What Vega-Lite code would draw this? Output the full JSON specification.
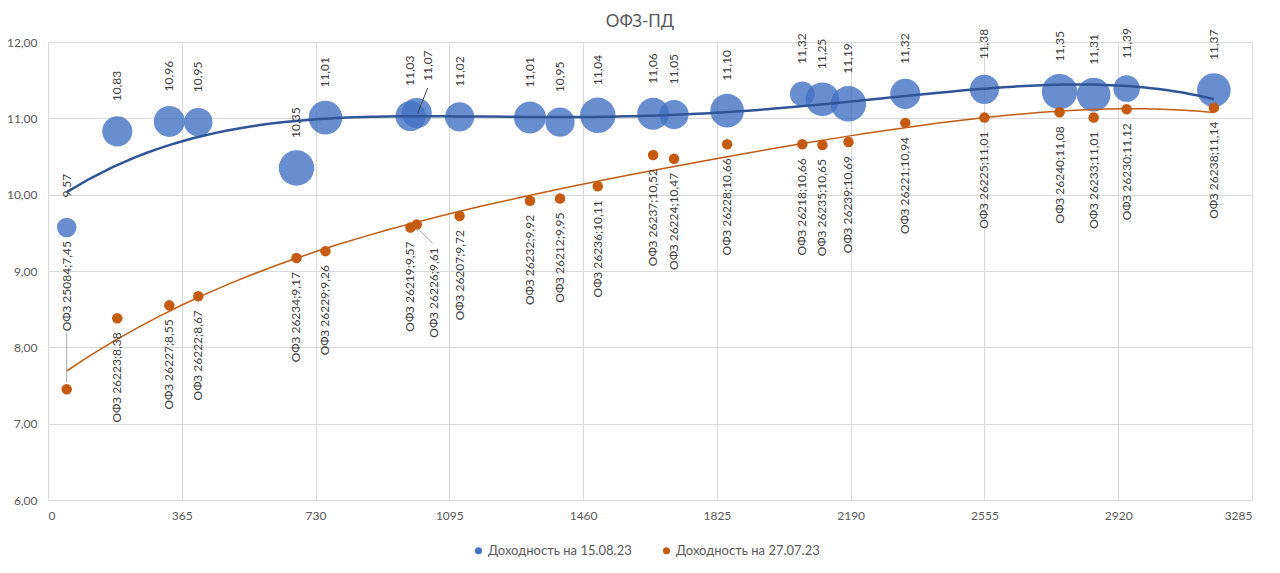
{
  "$schema": "https://vega.github.io/schema/vega-lite/v6.json",
  "autosize": "none",
  "width": 1204,
  "height": 458,
  "padding": {"left": 48, "top": 42, "right": 28, "bottom": 73},
  "background": "white",
  "config": {
    "view": {"stroke": null},
    "font": "Lato",
    "locale": {"number": {"decimal": ",", "thousands": " ", "grouping": [3], "currency": ["", ""]}},
    "axis": {"domain": false, "ticks": false, "gridColor": "#D9D9D9", "gridWidth": 1, "labelColor": "#595959", "labelFont": "Lato", "labelFontSize": 12, "title": null},
    "title": {"font": "Lato", "fontSize": 17, "fontWeight": "normal", "color": "#595959", "offset": -3, "dx": -10}
  },
  "title": {"text": "ОФЗ-ПД"},
  "data": {"values": [
    {"bond": "ОФЗ 25084", "days": 51, "y15": 9.57, "y27": 7.45, "vol": 121, "lab": "ОФЗ 25084;7,45"},
    {"bond": "ОФЗ 26223", "days": 189, "y15": 10.83, "y27": 8.38, "vol": 289, "lab": "ОФЗ 26223;8,38"},
    {"bond": "ОФЗ 26227", "days": 331, "y15": 10.96, "y27": 8.55, "vol": 306, "lab": "ОФЗ 26227;8,55"},
    {"bond": "ОФЗ 26222", "days": 410, "y15": 10.95, "y27": 8.67, "vol": 256, "lab": "ОФЗ 26222;8,67"},
    {"bond": "ОФЗ 26234", "days": 678, "y15": 10.35, "y27": 9.17, "vol": 400, "lab": "ОФЗ 26234;9,17"},
    {"bond": "ОФЗ 26229", "days": 757, "y15": 11.01, "y27": 9.26, "vol": 361, "lab": "ОФЗ 26229;9,26"},
    {"bond": "ОФЗ 26219", "days": 989, "y15": 11.03, "y27": 9.57, "vol": 289, "lab": "ОФЗ 26219;9,57"},
    {"bond": "ОФЗ 26226", "days": 1006, "y15": 11.07, "y27": 9.61, "vol": 289, "lab": "ОФЗ 26226;9,61"},
    {"bond": "ОФЗ 26207", "days": 1123, "y15": 11.02, "y27": 9.72, "vol": 272, "lab": "ОФЗ 26207;9,72"},
    {"bond": "ОФЗ 26232", "days": 1315, "y15": 11.01, "y27": 9.92, "vol": 324, "lab": "ОФЗ 26232;9,92"},
    {"bond": "ОФЗ 26212", "days": 1397, "y15": 10.95, "y27": 9.95, "vol": 272, "lab": "ОФЗ 26212;9,95"},
    {"bond": "ОФЗ 26236", "days": 1500, "y15": 11.04, "y27": 10.11, "vol": 400, "lab": "ОФЗ 26236;10,11"},
    {"bond": "ОФЗ 26237", "days": 1651, "y15": 11.06, "y27": 10.52, "vol": 324, "lab": "ОФЗ 26237;10,52"},
    {"bond": "ОФЗ 26224", "days": 1708, "y15": 11.05, "y27": 10.47, "vol": 272, "lab": "ОФЗ 26224;10,47"},
    {"bond": "ОФЗ 26228", "days": 1853, "y15": 11.10, "y27": 10.66, "vol": 361, "lab": "ОФЗ 26228;10,66"},
    {"bond": "ОФЗ 26218", "days": 2058, "y15": 11.32, "y27": 10.66, "vol": 196, "lab": "ОФЗ 26218;10,66"},
    {"bond": "ОФЗ 26235", "days": 2113, "y15": 11.25, "y27": 10.65, "vol": 361, "lab": "ОФЗ 26235;10,65"},
    {"bond": "ОФЗ 26239", "days": 2184, "y15": 11.19, "y27": 10.69, "vol": 400, "lab": "ОФЗ 26239;10,69"},
    {"bond": "ОФЗ 26221", "days": 2339, "y15": 11.32, "y27": 10.94, "vol": 289, "lab": "ОФЗ 26221;10,94"},
    {"bond": "ОФЗ 26225", "days": 2555, "y15": 11.38, "y27": 11.01, "vol": 272, "lab": "ОФЗ 26225;11,01"},
    {"bond": "ОФЗ 26240", "days": 2760, "y15": 11.35, "y27": 11.08, "vol": 400, "lab": "ОФЗ 26240;11,08"},
    {"bond": "ОФЗ 26233", "days": 2853, "y15": 11.31, "y27": 11.01, "vol": 361, "lab": "ОФЗ 26233;11,01"},
    {"bond": "ОФЗ 26230", "days": 2943, "y15": 11.39, "y27": 11.12, "vol": 225, "lab": "ОФЗ 26230;11,12"},
    {"bond": "ОФЗ 26238", "days": 3181, "y15": 11.37, "y27": 11.14, "vol": 361, "lab": "ОФЗ 26238;11,14"}
  ]},
  "encoding": {
    "x": {"field": "days", "type": "quantitative", "scale": {"domain": [0, 3285], "nice": false, "zero": false},
          "axis": {"values": [0, 365, 730, 1095, 1460, 1825, 2190, 2555, 2920, 3285], "format": "d", "labelPadding": 10}}
  },
  "layer": [
    {
      "mark": {"type": "circle", "opacity": 0.8},
      "encoding": {
        "y": {"field": "y15", "type": "quantitative", "scale": {"domain": [6, 12], "nice": false, "zero": false},
              "axis": {"values": [6, 7, 8, 9, 10, 11, 12], "format": ".2f", "labelPadding": 11}},
        "size": {"field": "vol", "type": "quantitative", "scale": {"type": "linear", "domain": [0, 400], "range": [0, 1257]}, "legend": null},
        "color": {"datum": "Доходность на  15.08.23", "type": "nominal",
                  "scale": {"domain": ["Доходность на  15.08.23", "Доходность на  27.07.23"], "range": ["#4472C4", "#C55A11"]},
                  "legend": {"title": null, "orient": "none", "legendX": 424, "legendY": 502, "direction": "horizontal",
                             "symbolType": "circle", "symbolSize": 50, "symbolOpacity": 0.85, "labelFontSize": 13, "labelColor": "#595959",
                             "labelFont": "Lato", "columnPadding": 24, "labelOffset": 3}}
      }
    },
    {
      "mark": {"type": "circle", "opacity": 1, "size": 110},
      "encoding": {
        "y": {"field": "y27", "type": "quantitative"},
        "color": {"datum": "Доходность на  27.07.23", "type": "nominal"}
      }
    },
    {
      "transform": [{"regression": "y15", "on": "days", "method": "poly", "order": 4}],
      "mark": {"type": "line", "color": "#2F5597", "strokeWidth": 2.5},
      "encoding": {"y": {"field": "y15", "type": "quantitative"}}
    },
    {
      "transform": [{"regression": "y27", "on": "days", "method": "poly", "order": 4}],
      "mark": {"type": "line", "color": "#C55A11", "strokeWidth": 1.5},
      "encoding": {"y": {"field": "y27", "type": "quantitative"}}
    },
    {
      "transform": [{"filter": "datum.bond !== 'ОФЗ 26226'"}],
      "mark": {"type": "text", "angle": 270, "align": "left", "baseline": "middle", "dx": 30, "fontSize": 12, "color": "#404040", "font": "Lato"},
      "encoding": {"y": {"field": "y15", "type": "quantitative"}, "text": {"field": "y15", "type": "quantitative", "format": ".2f"}}
    },
    {
      "transform": [{"filter": "datum.bond === 'ОФЗ 26226'"}],
      "mark": {"type": "text", "angle": 270, "align": "left", "baseline": "middle", "dx": 32, "dy": 11, "fontSize": 12, "color": "#404040", "font": "Lato"},
      "encoding": {"y": {"field": "y15", "type": "quantitative"}, "text": {"field": "y15", "type": "quantitative", "format": ".2f"}}
    },
    {
      "transform": [{"filter": "datum.bond !== 'ОФЗ 26226' && datum.bond !== 'ОФЗ 25084'"}],
      "mark": {"type": "text", "angle": 270, "align": "right", "baseline": "middle", "dx": -14, "fontSize": 12, "color": "#404040", "font": "Lato"},
      "encoding": {"y": {"field": "y27", "type": "quantitative"}, "text": {"field": "lab", "type": "nominal"}}
    },
    {
      "transform": [{"filter": "datum.bond === 'ОФЗ 26226'"}],
      "mark": {"type": "text", "angle": 270, "align": "right", "baseline": "middle", "dx": -23, "dy": 17, "fontSize": 12, "color": "#404040", "font": "Lato"},
      "encoding": {"y": {"field": "y27", "type": "quantitative"}, "text": {"field": "lab", "type": "nominal"}}
    },
    {
      "transform": [{"filter": "datum.bond === 'ОФЗ 25084'"}],
      "mark": {"type": "text", "angle": 270, "align": "left", "baseline": "middle", "dx": 58, "fontSize": 12, "color": "#404040", "font": "Lato"},
      "encoding": {"y": {"field": "y27", "type": "quantitative"}, "text": {"field": "lab", "type": "nominal"}}
    },
    {
      "transform": [{"filter": "datum.bond === 'ОФЗ 25084'"}],
      "mark": {"type": "rule", "color": "#A6A6A6", "strokeWidth": 1, "yOffset": -7, "y2Offset": -56},
      "encoding": {"y": {"field": "y27", "type": "quantitative"}, "y2": {"field": "y27"}}
    },
    {
      "transform": [{"filter": "datum.bond === 'ОФЗ 26226'"}],
      "mark": {"type": "rule", "color": "#A6A6A6", "strokeWidth": 1, "xOffset": 1, "x2Offset": 16, "yOffset": 4, "y2Offset": 19},
      "encoding": {"y": {"field": "y27", "type": "quantitative"}, "y2": {"field": "y27"}, "x2": {"field": "days"}}
    },
    {
      "transform": [{"filter": "datum.bond === 'ОФЗ 26226'"}],
      "mark": {"type": "rule", "color": "#404040", "strokeWidth": 1, "xOffset": 1, "x2Offset": 11, "yOffset": 0, "y2Offset": -25},
      "encoding": {"y": {"field": "y15", "type": "quantitative"}, "y2": {"field": "y15"}, "x2": {"field": "days"}}
    }
  ]
}
